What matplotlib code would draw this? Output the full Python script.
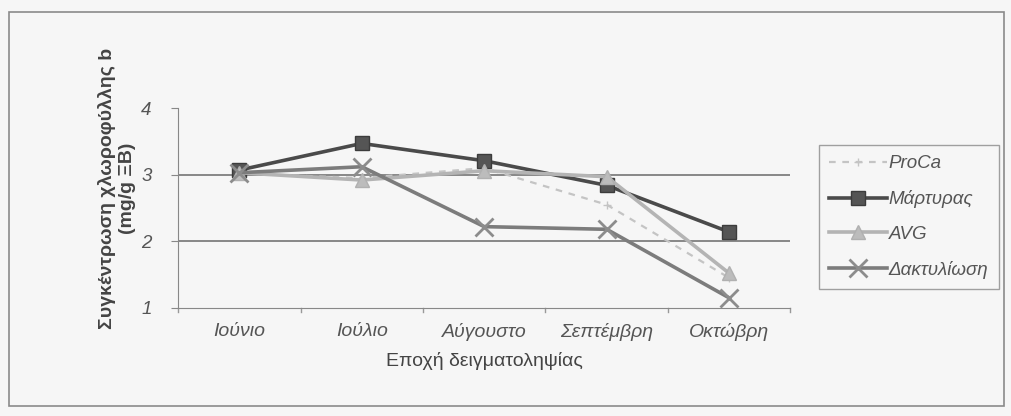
import matplotlib
matplotlib.use('Agg')
import matplotlib.pyplot as plt

plt.rcParams['font.family'] = ['Liberation Sans', 'DejaVu Sans']

# Chlorophyll b per sampling month
months = ['Ιούνιο', 'Ιούλιο', 'Αύγουστο', 'Σεπτέμβρη', 'Οκτώβρη']
proca = [3.02, 2.95, 3.10, 2.55, 1.45]
martyras = [3.07, 3.47, 3.21, 2.84, 2.14]
avg = [3.03, 2.92, 3.06, 2.97, 1.52]
daktyl = [3.03, 3.12, 2.22, 2.18, 1.15]

bg = '#f6f6f6'
fig = plt.figure(figsize=(10.12, 4.16), dpi=100, facecolor=bg)
ax = fig.add_axes([0.176, 0.26, 0.605, 0.48], facecolor=bg)

# outer chart frame
frame = plt.Rectangle((0.009, 0.025), 0.983, 0.945, transform=fig.transFigure,
                      fill=False, edgecolor='#8a8a8a', lw=1.2)
fig.patches.append(frame)

x = list(range(len(months)))
ax.plot(x, proca, color='#c4c4c4', lw=1.6, ls=(0, (3, 3)), marker='+',
        ms=6, mew=1, label='ProCa', zorder=2)
ax.plot(x, martyras, color='#4a4a4a', lw=2.6, marker='s', ms=10,
        mfc='#555555', mec='#3c3c3c', label='Μάρτυρας', zorder=3)
ax.plot(x, avg, color='#b4b4b4', lw=2.6, marker='^', ms=10,
        mfc='#bcbcbc', mec='#b0b0b0', label='AVG', zorder=4)
ax.plot(x, daktyl, color='#7c7c7c', lw=2.6, marker='x', ms=13, mew=2,
        mec='#8c8c8c', label='Δακτυλίωση', zorder=5)

ax.set_xlim(-0.5, len(months) - 0.5)
ax.set_ylim(1, 4)
ax.set_yticks([1, 2, 3, 4])
ax.set_xticks(x)
ax.set_xticklabels(months, fontstyle='italic', color='#555555', fontsize=14)
ax.set_yticklabels(['1', '2', '3', '4'], fontstyle='italic', color='#555555', fontsize=13.5)
ax.tick_params(axis='x', length=0, pad=11)
ax.tick_params(axis='y', length=5, color='#888888', pad=14)

# category separator ticks along the x axis
for b in [i - 0.5 for i in range(len(months) + 1)]:
    ax.plot([b, b], [1, 0.94], color='#999999', lw=1, clip_on=False)

for v in [2, 3]:
    ax.axhline(v, color='#6a6a6a', lw=1.1, zorder=1)

for s in ['top', 'right']:
    ax.spines[s].set_visible(False)
ax.spines['left'].set_color('#888888')
ax.spines['bottom'].set_color('#888888')

ax.set_xlabel('Εποχή δειγματοληψίας', fontsize=14, color='#444444', labelpad=8)
ax.set_ylabel('Συγκέντρωση χλωροφύλλης b\n(mg/g ΞΒ)', fontsize=14,
              fontweight='bold', color='#444444', linespacing=1.2, va='center')
ax.yaxis.set_label_coords(-0.1, 0.6)

leg = ax.legend(loc='center left', bbox_to_anchor=(1.046, 0.455), frameon=True,
                fancybox=False, edgecolor='#8a8a8a', facecolor=bg,
                prop={'style': 'italic', 'size': 13.5}, handlelength=3.1,
                handletextpad=0.1, labelspacing=0.95, borderpad=0.55,
                borderaxespad=0)
for t in leg.get_texts():
    t.set_color('#555555')

fig.savefig('out.png', dpi=100, facecolor=bg)
